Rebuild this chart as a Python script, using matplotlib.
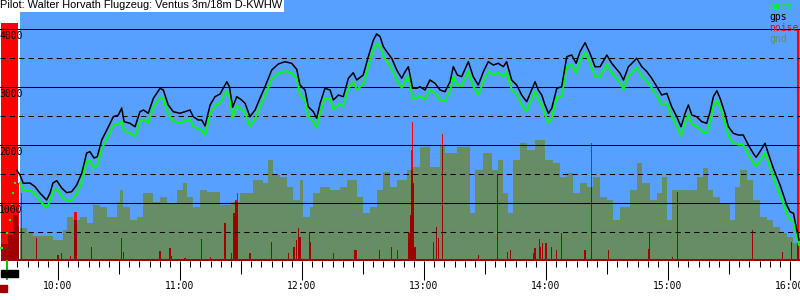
import numpy as np
import matplotlib
matplotlib.use("Agg")
import matplotlib.pyplot as plt
from matplotlib.ticker import MultipleLocator, FuncFormatter, NullFormatter
from matplotlib.patches import Rectangle

# time in minutes since midnight, altitudes in metres
TITLE = "Pilot: Walter Horvath Flugzeug: Ventus 3m/18m D-KWHW"
LEGEND = ["baro", "gps", "noise", "gnd"]

GPS_T = [579.7, 581.3, 582.9, 586.2, 588.7, 591.1, 594.4, 596.1, 597.5, 599.4, 601.8, 604.3,
         606.7, 609.2, 611.7, 614.1, 615.7, 617.7, 619.3, 621.5, 624.0, 627.2, 629.7, 631.3,
         632.5, 635.4, 637.9, 640.3, 642.0, 644.4, 646.9, 650.2, 651.8, 654.2, 656.7, 660.0,
         664.9, 666.5, 669.0, 670.7, 672.3, 674.8, 677.2, 679.7, 683.0, 684.3, 685.9, 687.9,
         690.3, 692.0, 694.4, 696.9, 699.3, 701.8, 705.1, 708.3, 711.6, 714.9, 717.4, 719.0,
         721.5, 723.1, 725.6, 727.2, 728.9, 731.3, 733.8, 735.4, 737.9, 740.3, 742.8, 745.2,
         746.9, 750.1, 752.6, 755.1, 756.7, 758.4, 760.0, 761.7, 764.1, 766.6, 769.0, 770.7,
         772.3, 774.4, 776.4, 778.0, 780.5, 782.9, 785.4, 787.9, 790.3, 792.8, 794.4, 796.4,
         798.5, 801.8, 804.2, 806.7, 809.2, 811.6, 814.1, 816.5, 819.0, 820.6, 823.1, 825.6,
         828.0, 830.5, 832.9, 834.6, 836.2, 837.9, 839.5, 841.2, 842.8, 845.3, 847.7, 850.2,
         852.6, 854.8, 856.7, 859.2, 861.6, 864.1, 866.6, 869.9, 872.3, 876.4, 878.1, 880.5,
         883.0, 884.6, 887.1, 889.6, 892.0, 894.5, 896.9, 899.4, 901.8, 904.3, 906.4, 908.4,
         910.0, 911.7, 914.1, 916.6, 919.0, 920.7, 922.3, 924.0, 925.6, 928.0, 929.7, 932.1,
         934.6, 937.0, 939.5, 941.9, 943.3, 945.2, 947.7, 949.3, 951.8, 955.1, 958.4, 960.0,
         961.7, 963.3, 964.4]
GPS_ALT = [1574, 1488, 1345, 1350, 1286, 1177, 1057, 1177, 1350, 1390, 1264, 1183,
           1200, 1315, 1522, 1867, 1890, 1781, 1803, 2091, 2264, 2493, 2522, 2643,
           2407, 2379, 2320, 2579, 2608, 2552, 2810, 2983, 2953, 2695, 2579, 2552,
           2608, 2493, 2436, 2436, 2333, 2695, 2838, 2884, 3096, 3010, 2655, 2838,
           2781, 2724, 2493, 2608, 2810, 3010, 3298, 3401, 3441, 3414, 3310, 3039,
           2953, 2665, 2579, 2465, 2724, 2983, 2953, 2781, 2867, 2838, 3155, 3251,
           3126, 3212, 3527, 3815, 3919, 3872, 3700, 3613, 3500, 3298, 3155, 3269,
           3355, 2983, 2983, 3010, 2953, 3126, 3069, 2953, 2924, 3096, 3355, 3212,
           3183, 3441, 3183, 3039, 3269, 3441, 3384, 3414, 3355, 3441, 3126, 3039,
           2867, 2752, 2953, 3096, 2953, 2867, 2695, 2552, 2638, 2983, 3010, 3527,
           3557, 3414, 3613, 3769, 3586, 3355, 3355, 3557, 3414, 3241, 3126, 3355,
           3441, 3500, 3355, 3269, 3155, 3010, 2867, 2896, 2665, 2493, 2320, 2552,
           2695, 2522, 2493, 2407, 2379, 2579, 2838, 2941, 2810, 2552, 2320, 2207,
           2177, 2177, 2005, 1862, 1793, 1890, 2034, 1862, 1603, 1315, 971, 855,
           828, 540, 367]

BARO_T = GPS_T[1:]
BARO_ALT = [1350, 1229, 1230, 1160, 1040, 919, 1040, 1200, 1250, 1120, 1040,
            1050, 1160, 1370, 1720, 1740, 1610, 1650, 1940, 2110, 2340, 2370, 2420,
            2250, 2210, 2150, 2420, 2450, 2390, 2650, 2830, 2800, 2540, 2420, 2390,
            2450, 2330, 2280, 2270, 2170, 2530, 2680, 2730, 2940, 2850, 2480, 2680,
            2620, 2560, 2330, 2450, 2650, 2850, 3140, 3240, 3280, 3250, 3150, 2870,
            2790, 2500, 2410, 2300, 2560, 2820, 2790, 2620, 2700, 2680, 2990, 3090,
            2960, 3050, 3360, 3650, 3750, 3710, 3540, 3450, 3330, 3130, 2990, 3100,
            3190, 2810, 2820, 2850, 2790, 2960, 2900, 2780, 2760, 2930, 3190, 3040,
            3020, 3280, 3020, 2870, 3100, 3270, 3220, 3250, 3190, 3270, 2960, 2870,
            2700, 2580, 2790, 2930, 2790, 2700, 2530, 2390, 2470, 2820, 2850, 3360,
            3390, 3250, 3450, 3600, 3420, 3190, 3190, 3390, 3250, 3080, 2960, 3190,
            3280, 3340, 3190, 3100, 2990, 2850, 2700, 2730, 2500, 2330, 2160, 2390,
            2530, 2360, 2330, 2240, 2210, 2410, 2670, 2780, 2650, 2390, 2160, 2040,
            2010, 2010, 1840, 1700, 1630, 1730, 1870, 1700, 1440, 1150, 830, 720,
            690, 420, 280]
# baro samples during the motor climb (drawn as dots)
CLIMB_T = [571.5, 572.5, 574.9, 576.4, 577.5, 577.9, 579.0]
CLIMB_ALT = [229, 229, 488, 712, 971, 1177, 1350]

GND_T = [572.5, 575.4, 577.9, 580.3, 581.3, 584.6, 587.9, 597.7, 602.6, 604.3, 607.5, 610.8,
         614.1, 617.4, 620.7, 624.0, 628.9, 630.5, 632.2, 635.4, 638.7, 642.0, 646.9, 650.2,
         653.5, 658.4, 661.6, 663.3, 666.6, 669.8, 673.1, 679.7, 684.6, 689.5, 696.0, 701.0,
         703.4, 705.9, 709.2, 712.5, 715.7, 719.0, 720.7, 723.9, 725.6, 728.9, 733.8, 738.7,
         742.0, 746.9, 750.1, 753.4, 756.7, 760.0, 763.3, 766.6, 771.5, 774.7, 778.0, 782.9,
         787.9, 790.3, 796.1, 802.6, 805.1, 809.2, 813.3, 816.5, 819.0, 821.5, 823.9, 827.2,
         830.5, 834.6, 839.5, 843.6, 846.9, 850.2, 853.4, 856.7, 860.0, 863.3, 866.6, 869.9,
         873.1, 876.4, 881.3, 884.6, 887.1, 891.2, 894.5, 896.9, 899.4, 901.8, 914.1, 917.4,
         919.8, 922.3, 925.6, 930.5, 932.9, 935.4, 938.7, 941.9, 945.2, 948.5, 951.8, 955.1,
         958.4, 961.6]
GND_ALT = [298, 453, 798, 609, 574, 488, 436, 367, 540, 764, 712, 764,
           660, 971, 936, 764, 1022, 1229, 936, 712, 764, 1177, 1022, 1109,
           1005, 1229, 1350, 1109, 936, 1229, 1195, 971, 1022, 1177, 1402, 1350,
           1746, 1488, 1453, 1281, 1057, 1402, 764, 936, 1177, 1281, 1229, 1281,
           1402, 1109, 833, 936, 1229, 1540, 1281, 1402, 1574, 1626, 1971, 1626,
           2005, 1867, 1971, 833, 1574, 1867, 1574, 1746, 1177, 833, 1746, 2039,
           1919, 2091, 1746, 1695, 1453, 1522, 1177, 1350, 1281, 1453, 1109, 1057,
           712, 936, 1229, 1695, 1350, 1057, 1177, 1453, 712, 1229, 1453, 1608,
           1229, 1109, 1005, 712, 1281, 1574, 1402, 1057, 764, 712, 591, 488,
           419, 316]

NOISE_T = [580.5, 582.1, 589.5, 600.0, 601.8, 606.2, 608.4, 608.9, 616.6, 631.3, 632.1,
           650.2, 655.1, 656.0, 662.5, 670.7, 674.8, 682.1, 685.4, 686.6, 687.5, 688.2,
           694.4, 704.8, 713.3, 716.1, 717.4, 718.2, 719.0, 723.6, 724.3, 735.4, 746.1,
           746.6, 758.0, 764.1, 767.1, 772.6, 773.4, 773.9, 774.2, 774.7, 775.6, 784.6,
           786.2, 787.0, 789.0, 806.7, 816.0, 820.9, 822.6, 833.7, 834.6, 836.7, 837.4,
           838.4, 840.0, 842.8, 845.3, 847.7, 859.2, 862.3, 870.6, 890.3, 890.8, 902.3,
           904.6, 941.6, 956.2, 960.8]
NOISE_V = [1350, 1177, 402, 109, 143, 91, 850, 850, 247, 402, 160,
           178, 229, 91, 57, 384, 74, 660, 143, 833, 1057, 1177,
           143, 333, 143, 247, 367, 574, 419, 505, 333, 143, 195,
           195, 195, 247, 195, 488, 798, 1919, 2402, 1350, 247, 333,
           591, 402, 2195, 109, 1505, 160, 195, 143, 229, 384, 247,
           315, 315, 247, 195, 488, 195, 2039, 195, 212, 505, 74,
           1195, 540, 160, 333]
NOISE_FLOOR = 35
# motor runs (noise saturated)
MOTOR_START = [571.9, 963.4]
MOTOR_END = [580.1, 964.2]
MOTOR_NOISE = [4100, 4000]

TAKEOFF_T = 575.0
ENGINE_MARK = (571.9, 580.3)
ENL_MARK = (571.5, 574.8)

T_MIN, T_MAX = 571.47, 964.9
BLUE_START = 581.3

BLUE = "#58a0ff"
GND_COLOR = "#668d64"
DARK_RED = "#a00000"


def gnd_at(t):
    g_t = np.array(GND_T)
    g_a = np.array(GND_ALT)
    idx = np.clip(np.searchsorted(g_t, t, side="right") - 1, 0, len(g_a) - 1)
    return g_a[idx]


fig = plt.figure(figsize=(8, 3), dpi=100)
ax = fig.add_axes([0, 38.7 / 300, 1, 261.3 / 300])
ax.set_xlim(T_MIN, T_MAX)
ax.set_ylim(0, 4505)
for s in ax.spines.values():
    s.set_visible(False)

# background
ax.axvspan(BLUE_START, T_MAX, color=BLUE, lw=0, zorder=0)

# ground
gt = np.array(GND_T)
ga = np.array(GND_ALT)
m = gt >= BLUE_START
gx = np.append(np.insert(gt[m], 0, BLUE_START), T_MAX)
gy = np.append(np.insert(ga[m], 0, ga[~m][-1]), ga[m][-1])
ax.fill_between(gx, 0, gy, step="post", color=GND_COLOR, lw=0, zorder=1)

# noise
ax.fill_between([580.0, T_MAX], 0, NOISE_FLOOR, color=DARK_RED, lw=0, zorder=2)
nt = np.array(NOISE_T)
nv = np.array(NOISE_V)
low = np.minimum(nv, gnd_at(nt))
ax.bar(nt, nv - low, bottom=low, width=0.6, color="#ff0000", lw=0, zorder=2)
ax.bar(nt, low, width=0.6, color=DARK_RED, lw=0, zorder=2)
for s, e, v in zip(MOTOR_START, MOTOR_END, MOTOR_NOISE):
    ax.bar(s, v, width=e - s, align="edge", color="#ff0000", lw=0, zorder=2)
    bt = np.linspace(s, e, 40)
    ax.fill_between(bt, 0, np.minimum(gnd_at(bt), v), step="post",
                    color=DARK_RED, lw=0, zorder=2)

# grid
for v in [1000, 2000, 3000, 4000]:
    ax.axhline(v, color="black", lw=0.75, zorder=3)
for v in [500, 1500, 2500, 3500]:
    ax.axhline(v, color="black", lw=0.75, ls=(0, (5, 4)), zorder=3)

# altitude series
ax.plot(CLIMB_T, CLIMB_ALT, ls="none", marker="s", ms=1.6, color="#00ff00", mew=0, zorder=4)
ax.plot(BARO_T, BARO_ALT, color="#00ff00", lw=1.4, zorder=4)
ax.plot(GPS_T, GPS_ALT, color="black", lw=1.1, zorder=5)

# y labels inside the plot
mono = "DejaVu Sans Mono"
for v in [1000, 2000, 3000, 4000]:
    ax.annotate(str(v), (0, v), xycoords=ax.get_yaxis_transform(), xytext=(-0.5, -1.5),
                textcoords="offset points", ha="left", va="top", fontsize=7,
                family=mono, zorder=6)
ax.set_yticks([])

# time axis
ax.xaxis.set_major_locator(MultipleLocator(60))
ax.xaxis.set_minor_locator(MultipleLocator(5))
ax.xaxis.set_major_formatter(FuncFormatter(lambda v, p: f"{int(v // 60)}:{int(round(v % 60)):02d}"))
ax.tick_params(axis="x", which="major", length=13.7, width=0.75, pad=0.5,
               labelsize=7, direction="out")
ax.tick_params(axis="x", which="minor", length=4.3, width=0.75, direction="out")
for lb in ax.get_xticklabels():
    lb.set_family(mono)
sec = ax.secondary_xaxis("bottom")
sec.set_xticks(np.arange(600, 970, 60) - 30)
sec.xaxis.set_major_formatter(NullFormatter())
sec.tick_params(length=9.4, width=0.75)
sec.spines["bottom"].set_visible(False)

# event marks below the axis
xt = ax.get_xaxis_transform()
ax.plot([TAKEOFF_T, TAKEOFF_T], [0, -0.069], transform=xt, color="#00cc00",
        lw=1.5, clip_on=False, zorder=7)
ax.add_patch(Rectangle((ENGINE_MARK[0], -0.060), ENGINE_MARK[1] - ENGINE_MARK[0], 0.027,
                       transform=xt, color="black", clip_on=False, zorder=8))
ax.add_patch(Rectangle((ENL_MARK[0], -0.119), ENL_MARK[1] - ENL_MARK[0], 0.027,
                       transform=xt, color=DARK_RED, clip_on=False, zorder=8))

# title and legend
fig.text(0.0, 1.0, TITLE, ha="left", va="top", fontsize=7.9, family="Liberation Sans",
         bbox=dict(facecolor="white", edgecolor="none", pad=1.2), zorder=10)
leg_colors = ["#00ff00", "black", "#ff0000", GND_COLOR]
for i, (lab, c) in enumerate(zip(LEGEND, leg_colors)):
    fig.text(769 / 800, 1 - (2 + i * 10.5) / 300, lab, ha="left", va="top",
             fontsize=7, family=mono, color=c)

fig.savefig("out.png", dpi=100)
